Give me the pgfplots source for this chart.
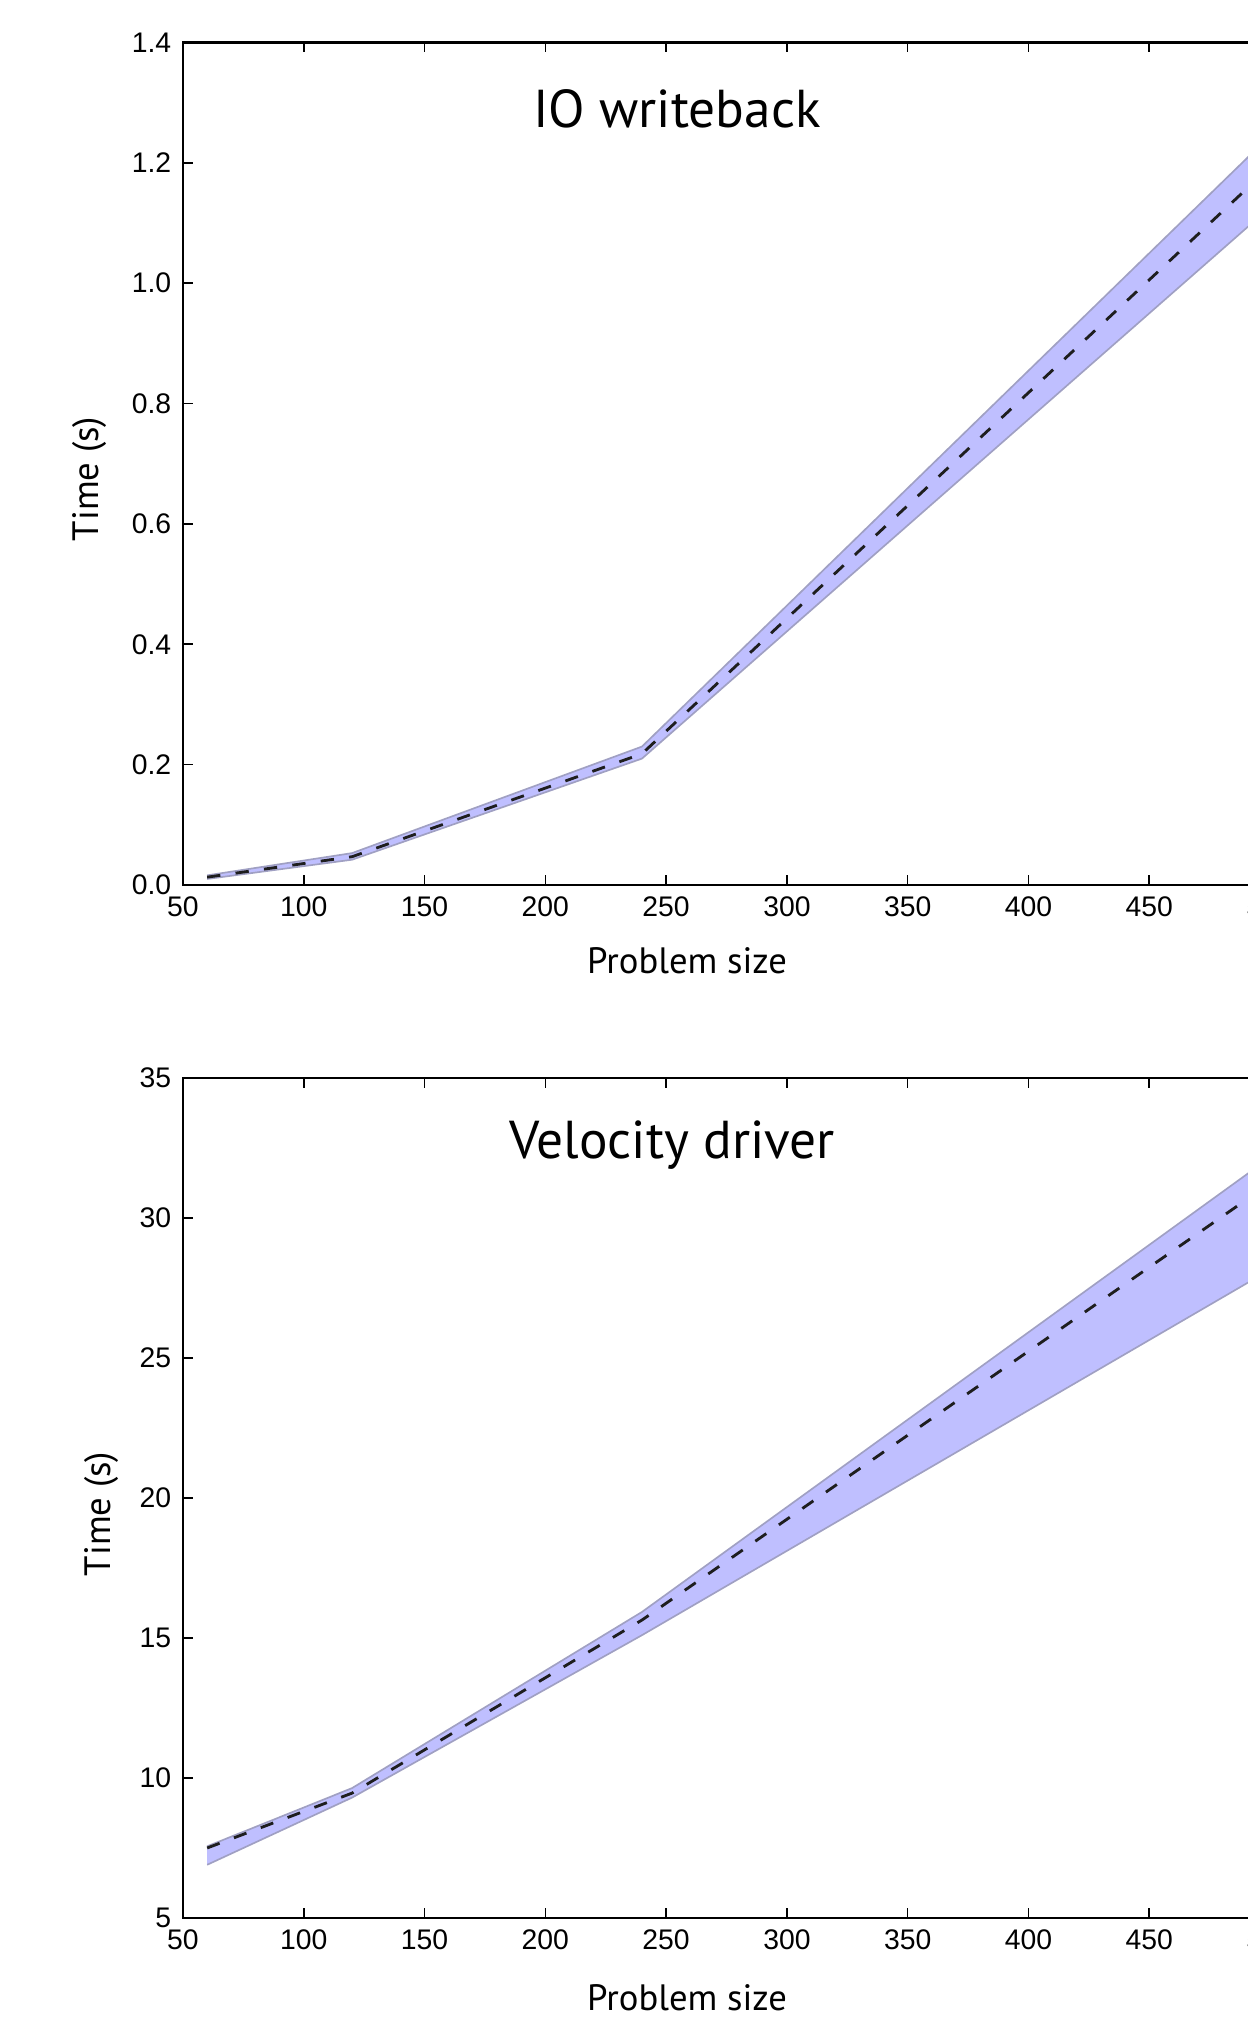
\documentclass[border=0pt]{standalone}
\usepackage{fontspec}
\setmainfont{Liberation Sans}
\newfontfamily\labelfont{PT Sans}
\usepackage{pgfplots}
\pgfplotsset{compat=1.18}
\usepgfplotslibrary{fillbetween}

\definecolor{bandfill}{RGB}{191,191,255}
\definecolor{bandedge}{RGB}{160,160,195}
\definecolor{meanline}{RGB}{30,30,30}

\pgfplotsset{
  panel/.style={
    scale only axis,
    width=326.1pt,
    anchor=south west,
    xmin=50, xmax=500,
    xtick={50,100,...,500},
    tick align=inside,
    major tick length=3pt,
    axis line style={line width=0.8pt},
    tick style={line width=0.5pt, black},
    /pgf/number format/assume math mode=true,
    ticklabel style={font=\fontsize{8.5}{10}\selectfont},
    every axis title/.style={font=\labelfont\fontsize{16}{19}\selectfont, anchor=center},
    label style={font=\labelfont\fontsize{11}{13}\selectfont, anchor=center},
  },
  band/.style={draw=bandedge, line width=0.5pt},
  mean/.style={meanline, line width=0.85pt, dash pattern=on 4pt off 4.6pt},
}

\begin{document}
\begin{tikzpicture}
  % IO writeback
  \begin{axis}[
      panel,
      at={(54.9pt,339.6pt)},
      height=252.75pt,
      ymin=0, ymax=1.4,
      ytick={0,0.2,...,1.4},
      yticklabel style={/pgf/number format/.cd, fixed, fixed zerofill, precision=1},
      title={IO writeback},
      title style={at={(axis description cs:0.4545,0.921)}},
      xlabel={Problem size},
      xlabel style={at={(axis description cs:0.4637,-0.090)}},
      ylabel={Time (s)},
      ylabel style={at={(axis description cs:-0.0856,0.482)}},
    ]
    \addplot[band, name path=up] coordinates {(60,0.016) (120,0.053) (240,0.230) (500,1.245)};
    \addplot[band, name path=lo] coordinates {(60,0.010) (120,0.042) (240,0.210) (500,1.126)};
    \addplot[bandfill] fill between[of=up and lo];
    \addplot[mean] coordinates {(60,0.013) (120,0.047) (240,0.218) (500,1.193)};
  \end{axis}

  % Velocity driver
  \begin{axis}[
      panel,
      at={(54.9pt,29.7pt)},
      height=252pt,
      ymin=5, ymax=35,
      ytick={5,10,...,35},
      title={Velocity driver},
      title style={at={(axis description cs:0.450,0.920)}},
      xlabel={Problem size},
      xlabel style={at={(axis description cs:0.4637,-0.095)}},
      ylabel={Time (s)},
      ylabel style={at={(axis description cs:-0.0749,0.481)}},
    ]
    \addplot[band, name path=up] coordinates {(60,7.56) (120,9.64) (240,15.93) (500,32.16)};
    \addplot[band, name path=lo] coordinates {(60,6.90) (120,9.30) (240,15.10) (500,28.15)};
    \addplot[bandfill] fill between[of=up and lo];
    \addplot[mean] coordinates {(60,7.50) (120,9.46) (240,15.64) (500,31.24)};
  \end{axis}

  \pgfresetboundingbox
  \path[use as bounding box] (0,0) rectangle (374.4pt,605.1pt);
\end{tikzpicture}
\end{document}
